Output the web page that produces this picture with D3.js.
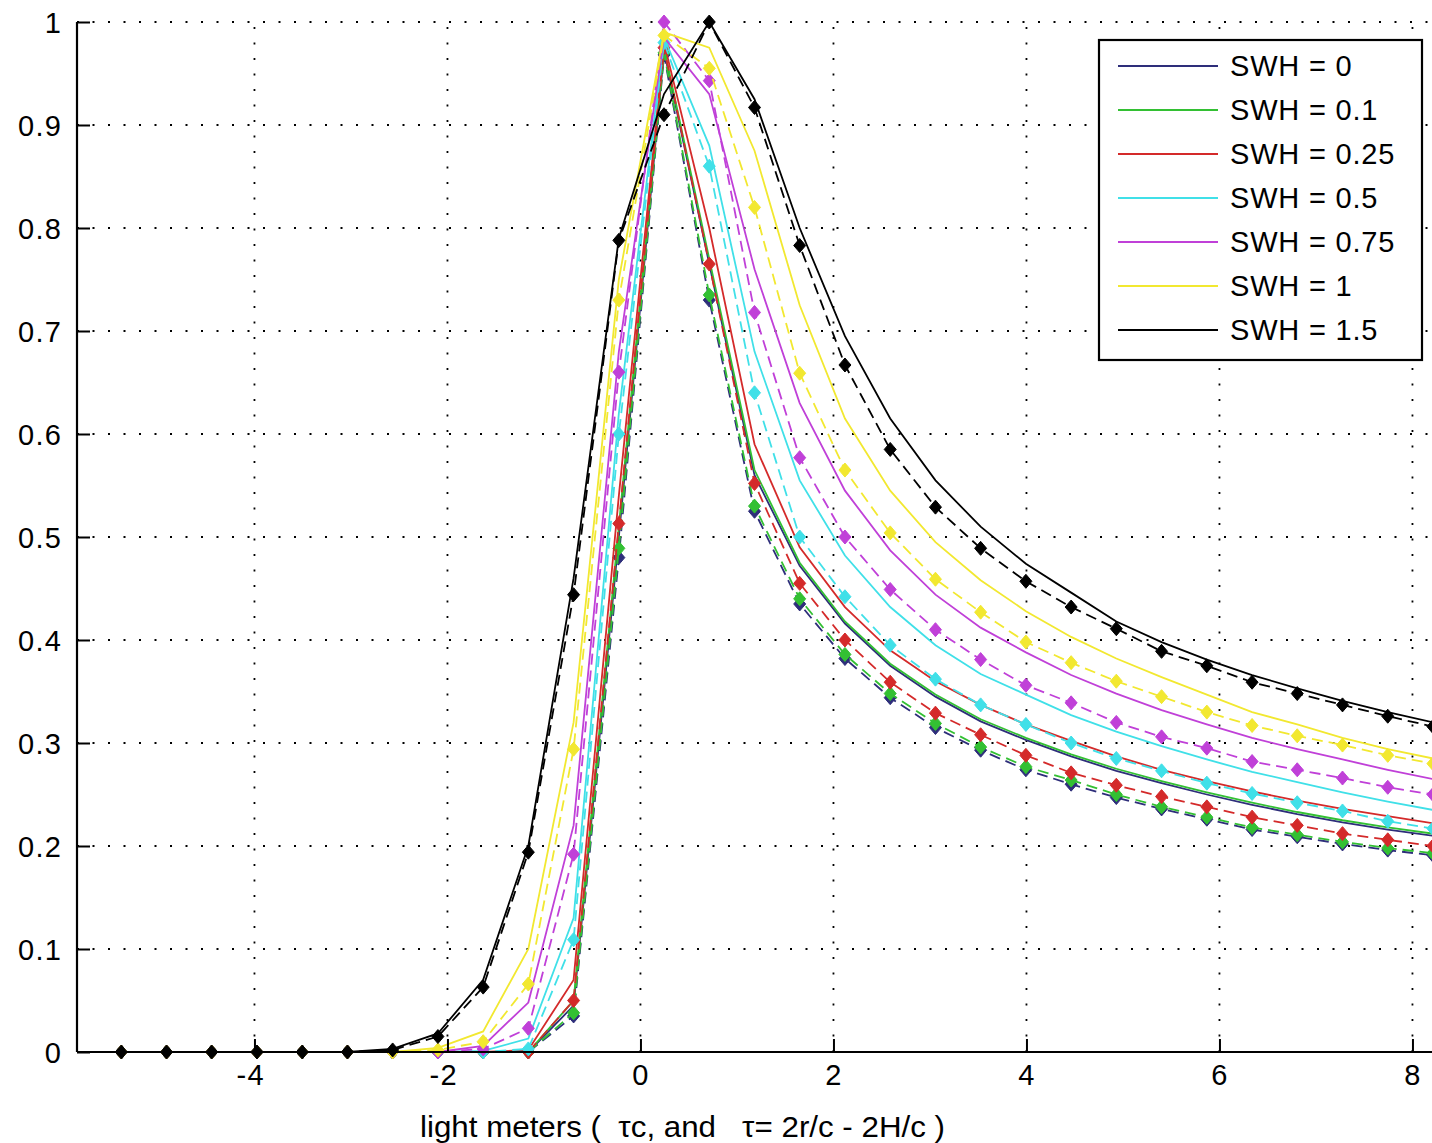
<!DOCTYPE html>
<html>
<head>
<meta charset="utf-8">
<script src="https://cdn.jsdelivr.net/npm/d3@7"></script>
<style>
  html, body { margin: 0; padding: 0; background: #fff; }
  svg { display: block; }
  text { font-family: "Liberation Sans", Arial, Helvetica, sans-serif; fill: #000; }
</style>
</head>
<body>
<svg id="chart" width="1432" height="1143"></svg>
<script>
// ---------------- data ----------------
const seriesNames = ["SWH = 0", "SWH = 0.1", "SWH = 0.25", "SWH = 0.5", "SWH = 0.75", "SWH = 1", "SWH = 1.5"];
const seriesColors = ["#2e2e7a", "#33c033", "#d42a2a", "#40e0e8", "#c040d8", "#f2e830", "#000000"];

// sample positions of the simulated (dashed, diamond) curves
const tau = [-5.380, -4.911, -4.443, -3.974, -3.505, -3.037, -2.568, -2.099, -1.630, -1.162,
             -0.693, -0.224, 0.244, 0.713, 1.182, 1.650, 2.119, 2.588, 3.057, 3.525,
             3.994, 4.463, 4.931, 5.400, 5.869, 6.338, 6.806, 7.275, 7.744, 8.212, 8.681];
// sample positions of the theoretical (solid) curves
const tauTheory = [-5.839, -5.380, -4.911, -4.443, -3.974, -3.505, -3.037, -2.568, -2.099, -1.630, -1.162,
             -0.693, -0.224, 0.244, 0.713, 1.182, 1.650, 2.119, 2.588, 3.057, 3.525,
             3.994, 4.463, 4.931, 5.400, 5.869, 6.338, 6.806, 7.275, 7.744, 8.212, 8.681];

// simulated waveforms (dashed with diamonds)
const simSWH0   = [0,0,0,0,0,0,0,0,0,0, 0.035,0.480,0.968,0.730,0.525,0.435,0.382,0.344,0.315,0.293, 0.274,0.260,0.247,0.236,0.226,0.216,0.209,0.202,0.196,0.191,0.186];
const simSWH01  = [0,0,0,0,0,0,0,0,0,0, 0.038,0.489,0.970,0.735,0.530,0.440,0.386,0.348,0.319,0.296, 0.277,0.264,0.250,0.238,0.228,0.218,0.211,0.204,0.198,0.193,0.188];
const simSWH025 = [0,0,0,0,0,0,0,0,0,0, 0.050,0.513,0.975,0.765,0.552,0.455,0.400,0.359,0.329,0.308, 0.288,0.271,0.259,0.248,0.238,0.228,0.220,0.212,0.206,0.200,0.195];
const simSWH05  = [0,0,0,0,0,0,0,0,0,0.003, 0.109,0.600,0.980,0.860,0.640,0.500,0.442,0.395,0.362,0.337, 0.318,0.300,0.285,0.273,0.261,0.251,0.242,0.234,0.224,0.217,0.211];
const simSWH075 = [0,0,0,0,0,0,0,0,0.003,0.023, 0.192,0.660,1.000,0.943,0.718,0.577,0.500,0.449,0.410,0.381, 0.356,0.339,0.320,0.306,0.295,0.282,0.274,0.266,0.257,0.250,0.243];
const simSWH1   = [0,0,0,0,0,0,0,0.002,0.010,0.066, 0.294,0.730,0.987,0.955,0.820,0.659,0.565,0.504,0.459,0.427, 0.398,0.378,0.360,0.345,0.330,0.317,0.307,0.298,0.288,0.280,0.272];
const simSWH15  = [0,0,0,0,0,0,0.002,0.015,0.063,0.194, 0.444,0.788,0.910,1.000,0.917,0.783,0.667,0.585,0.529,0.489, 0.457,0.432,0.411,0.389,0.375,0.359,0.348,0.337,0.326,0.316,0.307];

// theoretical waveforms (solid)
const thSWH0   = [0, 0,0,0,0,0,0,0,0,0,0, 0.045,0.500,0.972,0.765,0.560,0.472,0.416,0.375,0.345,0.321, 0.303,0.287,0.273,0.261,0.250,0.240,0.231,0.223,0.216,0.210,0.204];
const thSWH01  = [0, 0,0,0,0,0,0,0,0,0,0, 0.050,0.510,0.975,0.770,0.565,0.475,0.418,0.377,0.347,0.323, 0.305,0.289,0.275,0.263,0.252,0.242,0.233,0.225,0.218,0.212,0.206];
const thSWH025 = [0, 0,0,0,0,0,0,0,0,0,0.002, 0.070,0.540,0.980,0.800,0.590,0.490,0.432,0.390,0.360,0.337, 0.318,0.302,0.287,0.274,0.263,0.253,0.244,0.236,0.229,0.222,0.216];
const thSWH05  = [0, 0,0,0,0,0,0,0,0,0.001,0.013, 0.130,0.620,0.985,0.880,0.680,0.555,0.482,0.432,0.395,0.367, 0.347,0.327,0.311,0.297,0.284,0.272,0.262,0.252,0.243,0.235,0.228];
const thSWH075 = [0, 0,0,0,0,0,0,0,0,0.006,0.048, 0.220,0.680,0.985,0.930,0.760,0.630,0.545,0.487,0.444,0.412, 0.388,0.366,0.348,0.332,0.318,0.305,0.294,0.284,0.274,0.265,0.257];
const thSWH1   = [0, 0,0,0,0,0,0,0,0.004,0.020,0.100, 0.320,0.750,0.990,0.975,0.875,0.725,0.615,0.545,0.495,0.458, 0.428,0.403,0.382,0.364,0.347,0.330,0.318,0.305,0.294,0.285,0.277];
const thSWH15  = [0, 0,0,0,0,0,0,0.003,0.018,0.070,0.200, 0.460,0.790,0.930,1.000,0.925,0.800,0.695,0.615,0.555,0.510, 0.474,0.446,0.418,0.398,0.381,0.366,0.353,0.341,0.330,0.320,0.311];

const simSeries = [simSWH0, simSWH01, simSWH025, simSWH05, simSWH075, simSWH1, simSWH15];
const thSeries  = [thSWH0, thSWH01, thSWH025, thSWH05, thSWH075, thSWH1, thSWH15];

const xTicks = [-4, -2, 0, 2, 4, 6, 8];
const xTickLabels = ["-4", "-2", "0", "2", "4", "6", "8"];
const yTicks = [0, 0.1, 0.2, 0.3, 0.4, 0.5, 0.6, 0.7, 0.8, 0.9, 1];
const yTickLabels = ["0", "0.1", "0.2", "0.3", "0.4", "0.5", "0.6", "0.7", "0.8", "0.9", "1"];
const xLabel = "light meters (  \u03C4c, and   \u03C4= 2r/c - 2H/c )";

// ---------------- drawing ----------------
const svg = d3.select("#chart");
svg.append("rect").attr("width", 1432).attr("height", 1143).attr("fill", "#fff");

const x = d3.scaleLinear().domain([-5.839, 9.0]).range([77, 77 + 14.839 * 96.5]);
const y = d3.scaleLinear().domain([0, 1]).range([1052, 22]);
const [x0] = x.range();
const xRight = x.range()[1];

// grid (dotted)
const grid = svg.append("g").attr("stroke", "#000").attr("stroke-width", 1.8)
  .attr("stroke-dasharray", "2,13.5").attr("fill", "none");
grid.selectAll("line.v").data(xTicks).join("line")
  .attr("x1", d => x(d)).attr("x2", d => x(d))
  .attr("y1", y(0)).attr("y2", y(1));
grid.selectAll("line.h").data(yTicks.filter(d => d > 0)).join("line")
  .attr("x1", x0).attr("x2", xRight)
  .attr("y1", d => y(d)).attr("y2", d => y(d));

// curves
const lineTh = d3.line().x((d, i) => x(tauTheory[i])).y(d => y(d));
const lineSim = d3.line().x((d, i) => x(tau[i])).y(d => y(d));
const plot = svg.append("g");
const diamond = (cx, cy) => `M${cx},${cy - 7}L${cx + 6},${cy}L${cx},${cy + 7}L${cx - 6},${cy}Z`;

seriesNames.forEach((name, k) => {
  const col = seriesColors[k];
  plot.append("path").datum(thSeries[k])
    .attr("d", lineTh).attr("fill", "none").attr("stroke", col).attr("stroke-width", 1.8);
  plot.append("path").datum(simSeries[k])
    .attr("d", lineSim).attr("fill", "none").attr("stroke", col).attr("stroke-width", 1.8)
    .attr("stroke-dasharray", "11,6");
  plot.append("g").selectAll("path").data(simSeries[k]).join("path")
    .attr("d", (d, i) => diamond(x(tau[i]), y(d)))
    .attr("fill", col).attr("stroke", col).attr("stroke-width", 1);
});

// axes (MATLAB style: inward ticks, no box on top)
const axisY = d3.axisLeft(y).tickValues(yTicks).tickSize(-13).tickPadding(15)
  .tickFormat((d, i) => yTickLabels[i]);
const gy = svg.append("g").attr("transform", `translate(${x0},0)`).call(axisY);
const axisX = d3.axisBottom(x).tickValues(xTicks).tickSize(-13).tickPadding(27)
  .tickFormat((d, i) => xTickLabels[i]);
const gx = svg.append("g").attr("transform", `translate(0,${y(0)})`).call(axisX);

[gx, gy].forEach(g => {
  g.select(".domain").attr("stroke", "#000").attr("stroke-width", 2.2);
  g.selectAll(".tick line").attr("stroke", "#000").attr("stroke-width", 2);
  g.selectAll(".tick text").attr("font-size", 29).attr("letter-spacing", 1.2)
    .attr("font-family", "Liberation Sans, Arial, sans-serif").attr("fill", "#000");
});
gy.select(".domain").attr("d", `M0,${y(1)}V${y(0)}`);
gy.selectAll(".tick text").attr("dy", "0.36em");
gx.select(".domain").attr("d", `M${x0},0H${xRight}`);
gx.selectAll(".tick text").attr("dy", "0.2em").attr("text-anchor", "middle");
gx.selectAll(".tick text").filter(d => d < 0).attr("dx", "-0.15em");

// x label
svg.append("text")
  .attr("x", 420).attr("y", 1137)
  .attr("font-size", 29)
  .attr("textLength", 525).attr("lengthAdjust", "spacingAndGlyphs")
  .style("white-space", "pre")
  .text(xLabel);

// legend
const leg = svg.append("g");
leg.append("rect").attr("x", 1099).attr("y", 40).attr("width", 323).attr("height", 320)
  .attr("fill", "#fff").attr("stroke", "#000").attr("stroke-width", 2.2);
const legY = d3.scalePoint().domain(seriesNames).range([66, 330]);
seriesNames.forEach((name, k) => {
  leg.append("line").attr("x1", 1118).attr("x2", 1218)
    .attr("y1", legY(name)).attr("y2", legY(name))
    .attr("stroke", seriesColors[k]).attr("stroke-width", 2);
  leg.append("text").attr("x", 1230).attr("y", legY(name) + 10)
    .attr("font-size", 29).attr("letter-spacing", 0.8).text(name);
});
</script>
</body>
</html>
